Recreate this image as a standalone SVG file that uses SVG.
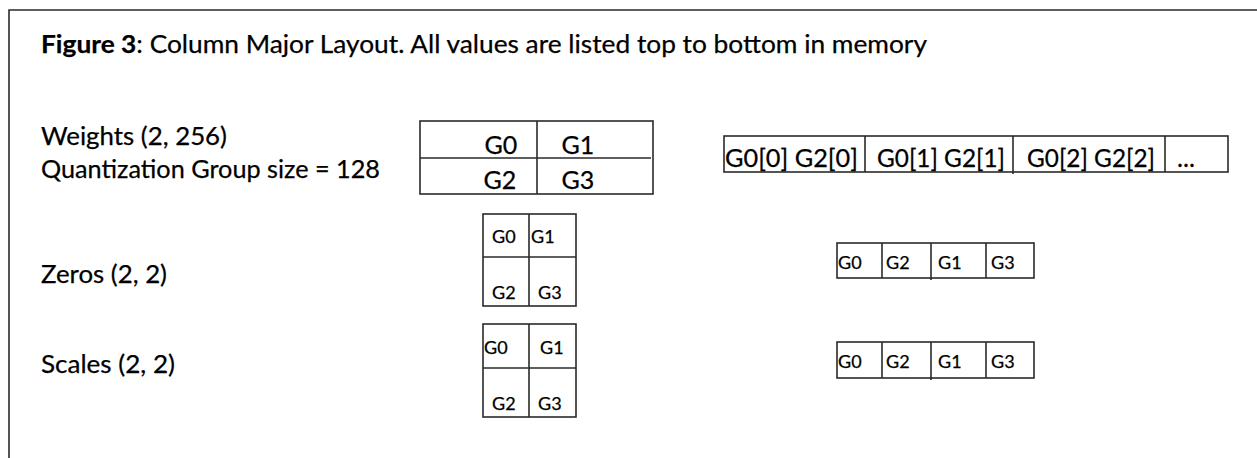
<svg xmlns="http://www.w3.org/2000/svg" width="1257" height="458" viewBox="0 0 1257 458">
  <style>
    text { font-family: Lato, "Open Sans", "Liberation Sans", sans-serif; fill: #000; stroke: #000; stroke-width: 0.25; }
    .big { font-size: 25px; }
    .small { font-size: 18px; }
    .box { fill: #fff; stroke: #2a2a2a; stroke-width: 1.6; }
    .rule { stroke: #2a2a2a; stroke-width: 1.6; fill: none; }
  </style>

  <rect width="1257" height="458" fill="#fff"/>
  <!-- page frame (top and left edges) -->
  <path class="rule" d="M9,458 V10 H1257" stroke-width="2"/>

  <!-- caption -->
  <text class="big" x="41" y="53" textLength="886" lengthAdjust="spacingAndGlyphs"><tspan font-weight="bold">Figure 3</tspan>: Column Major Layout. All values are listed top to bottom in memory</text>

  <!-- row labels -->
  <g id="labels">
    <text class="big" x="41" y="145" textLength="186" lengthAdjust="spacingAndGlyphs">Weights (2, 256)</text>
    <text class="big" x="41" y="178" textLength="339" lengthAdjust="spacingAndGlyphs">Quantization Group size = 128</text>
    <text class="big" x="41" y="283" textLength="126" lengthAdjust="spacingAndGlyphs">Zeros (2, 2)</text>
    <text class="big" x="41" y="373" textLength="134" lengthAdjust="spacingAndGlyphs">Scales (2, 2)</text>
  </g>

  <!-- weights matrix -->
  <g id="weights-matrix">
    <rect class="box" x="420" y="121" width="233" height="73"/>
    <line class="rule" x1="537" y1="121" x2="537" y2="194"/>
    <line class="rule" x1="420" y1="158" x2="651" y2="158"/>
    <text class="big" x="501" y="154" text-anchor="middle">G0</text>
    <text class="big" x="578" y="154" text-anchor="middle">G1</text>
    <text class="big" x="500" y="189" text-anchor="middle">G2</text>
    <text class="big" x="578" y="189" text-anchor="middle">G3</text>
  </g>

  <!-- weights memory order -->
  <g id="weights-memory">
    <rect class="box" x="724" y="136" width="504" height="36"/>
    <line class="rule" x1="865" y1="136" x2="865" y2="172"/>
    <line class="rule" x1="1013" y1="136" x2="1013" y2="174"/>
    <line class="rule" x1="1165" y1="136" x2="1165" y2="172"/>
    <text class="big" x="725" y="167" textLength="133" lengthAdjust="spacingAndGlyphs">G0[0] G2[0]</text>
    <text class="big" x="877" y="167" textLength="128" lengthAdjust="spacingAndGlyphs">G0[1] G2[1]</text>
    <text class="big" x="1027" y="167" textLength="128" lengthAdjust="spacingAndGlyphs">G0[2] G2[2]</text>
    <text class="big" x="1177" y="167" textLength="18" lengthAdjust="spacingAndGlyphs">...</text>
  </g>

  <!-- zeros matrix -->
  <g id="zeros-matrix">
    <rect class="box" x="483" y="214" width="93" height="92"/>
    <line class="rule" x1="529" y1="214" x2="529" y2="306"/>
    <line class="rule" x1="483" y1="257" x2="576" y2="257"/>
    <text class="small" x="492" y="243">G0</text>
    <text class="small" x="531" y="243">G1</text>
    <text class="small" x="492" y="299">G2</text>
    <text class="small" x="538" y="299">G3</text>
  </g>

  <!-- zeros memory order -->
  <g id="zeros-memory">
    <rect class="box" x="837" y="243" width="197" height="35"/>
    <line class="rule" x1="882" y1="243" x2="882" y2="278"/>
    <line class="rule" x1="931" y1="243" x2="931" y2="280"/>
    <line class="rule" x1="986" y1="243" x2="986" y2="278"/>
    <text class="small" x="838" y="269">G0</text>
    <text class="small" x="886" y="269">G2</text>
    <text class="small" x="938" y="269">G1</text>
    <text class="small" x="991" y="269">G3</text>
  </g>

  <!-- scales matrix -->
  <g id="scales-matrix">
    <rect class="box" x="483" y="324" width="93" height="93"/>
    <line class="rule" x1="529" y1="324" x2="529" y2="417"/>
    <line class="rule" x1="483" y1="368" x2="576" y2="368"/>
    <text class="small" x="484" y="354">G0</text>
    <text class="small" x="540" y="354">G1</text>
    <text class="small" x="492" y="410">G2</text>
    <text class="small" x="538" y="410">G3</text>
  </g>

  <!-- scales memory order -->
  <g id="scales-memory">
    <rect class="box" x="837" y="342" width="197" height="36"/>
    <line class="rule" x1="882" y1="342" x2="882" y2="378"/>
    <line class="rule" x1="931" y1="342" x2="931" y2="380"/>
    <line class="rule" x1="986" y1="342" x2="986" y2="378"/>
    <text class="small" x="838" y="368">G0</text>
    <text class="small" x="886" y="368">G2</text>
    <text class="small" x="938" y="368">G1</text>
    <text class="small" x="991" y="368">G3</text>
  </g>
</svg>
